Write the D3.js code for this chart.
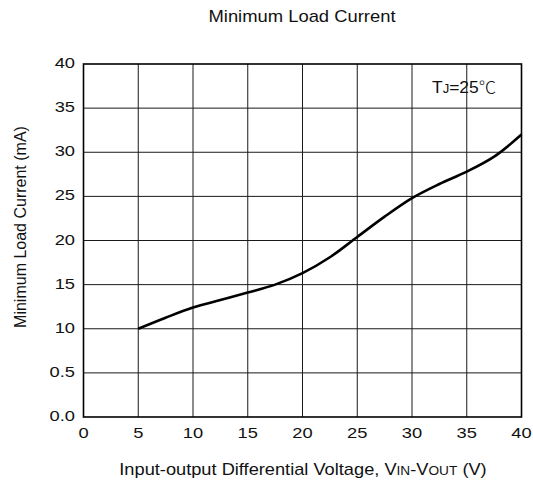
<!DOCTYPE html>
<html>
<head>
<meta charset="utf-8">
<script src="https://cdn.jsdelivr.net/npm/d3@7"></script>
<style>
  body { margin: 0; background: #fff; }
  svg text { font-family: "Liberation Sans", Arial, sans-serif; fill: #111; }
</style>
</head>
<body>
<svg id="chart" width="533" height="485"></svg>
<script>
// data
const voltage = [5, 7.5, 10, 12.5, 15, 17.5, 20, 22.5, 25, 27.5, 30, 32.5, 35, 37.5, 40];
const current = [10, 11.25, 12.4, 13.25, 14.1, 15.0, 16.3, 18.1, 20.4, 22.7, 24.8, 26.4, 27.8, 29.5, 32.0];

const xTicks = [0, 5, 10, 15, 20, 25, 30, 35, 40];
const yTicks = [0, 5, 10, 15, 20, 25, 30, 35, 40];
const yTickLabels = ["0.0", "0.5", "10", "15", "20", "25", "30", "35", "40"];

const svg = d3.select("#chart");
const plotL = 83.5, plotR = 521.5, plotT = 64, plotB = 417;

const x = d3.scaleLinear().domain([0, 40]).range([plotL, plotR]);
const y = d3.scaleLinear().domain([0, 40]).range([plotB, plotT]);

// the original picture is stretched sideways, so text gets a wider x scale
const place = (px, py, sx) => `translate(${px},${py}) scale(${sx},1)`;

// title
svg.append("text")
  .attr("transform", place(302, 22, 1.15))
  .attr("text-anchor", "middle")
  .attr("font-size", 16)
  .text("Minimum Load Current");

// grid
const grid = svg.append("g").attr("stroke", "#1a1a1a").attr("stroke-width", 1);
grid.selectAll("line.v").data(xTicks.slice(1, -1)).join("line")
  .attr("x1", d => x(d)).attr("x2", d => x(d))
  .attr("y1", plotT).attr("y2", plotB);
grid.selectAll("line.h").data(yTicks.slice(1, -1)).join("line")
  .attr("x1", plotL).attr("x2", plotR)
  .attr("y1", d => y(d)).attr("y2", d => y(d));

svg.append("rect")
  .attr("x", plotL).attr("y", plotT)
  .attr("width", plotR - plotL).attr("height", plotB - plotT)
  .attr("fill", "none").attr("stroke", "#000").attr("stroke-width", 1.6);

// tick labels
svg.append("g").selectAll("text").data(xTicks).join("text")
  .attr("transform", d => place(x(d), 438, 1.22))
  .attr("text-anchor", "middle")
  .attr("font-size", 15)
  .text(d => d);

svg.append("g").selectAll("text").data(yTicks).join("text")
  .attr("transform", d => place(75, y(d) + 4, 1.22))
  .attr("text-anchor", "end")
  .attr("font-size", 15)
  .text((d, i) => yTickLabels[i]);

// axis titles
svg.append("text")
  .attr("transform", "translate(26,227) rotate(-90)")
  .attr("text-anchor", "middle")
  .attr("font-size", 16)
  .text("Minimum Load Current (mA)");

const xl = svg.append("text")
  .attr("transform", place(303, 475, 1.14))
  .attr("text-anchor", "middle")
  .attr("font-size", 16);
xl.append("tspan").text("Input-output Differential Voltage, V");
xl.append("tspan").attr("font-size", 12).text("IN");
xl.append("tspan").text("-V");
xl.append("tspan").attr("font-size", 12).text("OUT");
xl.append("tspan").text(" (V)");

// annotation
const ann = svg.append("text")
  .attr("transform", place(432, 93, 1.09))
  .attr("font-size", 16);
ann.append("tspan").text("T");
ann.append("tspan").attr("font-size", 12).text("J");
ann.append("tspan").text("=25");
ann.append("tspan").attr("font-family", "Noto Sans CJK SC").attr("font-weight", 300).text("℃");

// curve
const line = d3.line()
  .x((d, i) => x(voltage[i]))
  .y(d => y(d))
  .curve(d3.curveCatmullRom.alpha(0.5));

svg.append("path")
  .datum(current)
  .attr("d", line)
  .attr("fill", "none")
  .attr("stroke", "#000")
  .attr("stroke-width", 2.6);
</script>
</body>
</html>
